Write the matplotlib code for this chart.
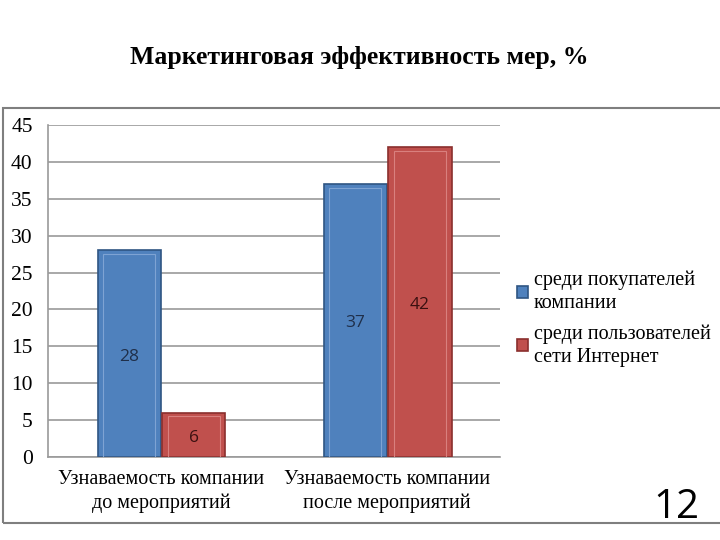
import matplotlib.pyplot as plt
from matplotlib.patches import Rectangle
import numpy as np

categories = ['Узнаваемость компании\nдо мероприятий', 'Узнаваемость компании\nпосле мероприятий']
buyers = [28, 37]
internet = [6, 42]
series_names = ['среди покупателей\nкомпании', 'среди пользователей\nсети Интернет']
title = 'Маркетинговая эффективность мер, %'

blue = '#4F81BD'
red = '#C0504D'

plt.rcParams['font.family'] = ['Liberation Serif', 'DejaVu Serif']

fig = plt.figure(figsize=(7.2, 5.4), dpi=100)
ax = fig.add_axes([0.0667, 0.1537, 0.628, 0.6148])

x = np.arange(len(categories))
w = 0.28
b1 = ax.bar(x - w / 2, buyers, w, color=blue, edgecolor='#2f5583', linewidth=1.2,
            label=series_names[0], zorder=3)
b2 = ax.bar(x + w / 2 + 0.005, internet, w, color=red, edgecolor='#8a2f2d', linewidth=1.2,
            label=series_names[1], zorder=3)

# inner bevel highlight
for bars, col in ((b1, '#7ea3d3'), (b2, '#d9807e')):
    for r in bars:
        ax.add_patch(Rectangle((r.get_x() + 0.025, 0), r.get_width() - 0.05, r.get_height() - 0.5,
                               fill=False, edgecolor=col, linewidth=0.8, zorder=4))

for bars, tc in ((b1, '#1f2f4a'), (b2, '#3a1010')):
    for r in bars:
        ax.text(r.get_x() + r.get_width() / 2, r.get_height() / 2 - 0.4, f'{int(r.get_height())}',
                ha='center', va='center', fontsize=12.5, family=['Open Sans', 'DejaVu Sans'],
                color=tc, zorder=5)

ax.set_xlim(-0.5, 1.5)
ax.set_ylim(0, 45)
ax.set_yticks(range(0, 46, 5))
ax.yaxis.grid(True, color='#9a9a9a', linewidth=1.2, zorder=0)
ax.set_axisbelow(True)
for s in ('top', 'right'):
    ax.spines[s].set_visible(False)
for s in ('left', 'bottom'):
    ax.spines[s].set_color('#9a9a9a')
    ax.spines[s].set_linewidth(1.2)
ax.tick_params(axis='both', length=0)
ax.tick_params(axis='y', pad=11, labelsize=15.5)
ax.tick_params(axis='x', pad=9)
ax.set_xticks(x)
ax.set_xticklabels(categories, fontsize=14.5, linespacing=1.35)

fig.text(0.499, 0.893, title, ha='center', va='center', fontsize=18.5, fontweight='bold')

fig.legend(loc='center left', bbox_to_anchor=(0.718, 0.41), frameon=False, fontsize=14.5,
           handlelength=0.55, handleheight=0.55, handletextpad=0.3, labelspacing=0.55,
           borderpad=0, borderaxespad=0)
plt.setp(fig.legends[0].get_texts(), linespacing=1.3)

fig.patches.append(Rectangle((0.004, 0.0315), 1.2, 0.7685, transform=fig.transFigure,
                             fill=False, edgecolor='#7f7f7f', linewidth=1.5))

fig.text(0.972, 0.06, '12', ha='right', va='center', fontsize=29,
         family=['Open Sans', 'DejaVu Sans'], color='black')

fig.savefig('out.png', dpi=100)
